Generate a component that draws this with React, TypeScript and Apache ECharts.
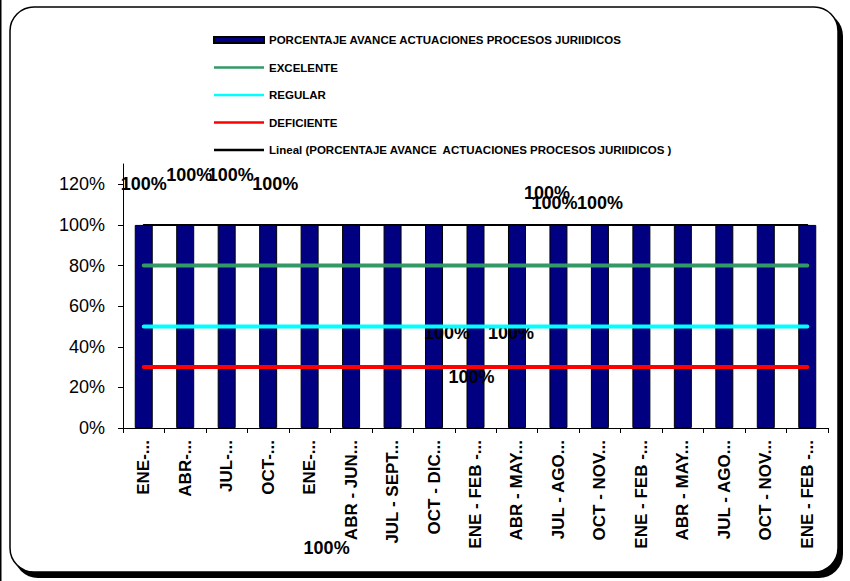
import React, { useEffect, useRef } from "react";
import * as echarts from "echarts";

const categories = [
  "ENE-...", "ABR-...", "JUL-...", "OCT-...", "ENE-...",
  "ABR - JUN...", "JUL - SEPT...", "OCT - DIC...", "ENE - FEB -...",
  "ABR - MAY...", "JUL - AGO...", "OCT - NOV...", "ENE - FEB -...",
  "ABR - MAY...", "JUL - AGO...", "OCT - NOV...", "ENE - FEB -...",
];
const avance = [1, 1, 1, 1, 1, 1, 1, 1, 1, 1, 1, 1, 1, 1, 1, 1, 1];
const excelente = [0.8, 0.8, 0.8, 0.8, 0.8, 0.8, 0.8, 0.8, 0.8, 0.8, 0.8, 0.8, 0.8, 0.8, 0.8, 0.8, 0.8];
const regular = [0.5, 0.5, 0.5, 0.5, 0.5, 0.5, 0.5, 0.5, 0.5, 0.5, 0.5, 0.5, 0.5, 0.5, 0.5, 0.5, 0.5];
const deficiente = [0.3, 0.3, 0.3, 0.3, 0.3, 0.3, 0.3, 0.3, 0.3, 0.3, 0.3, 0.3, 0.3, 0.3, 0.3, 0.3, 0.3];
const lineal = [1, 1, 1, 1, 1, 1, 1, 1, 1, 1, 1, 1, 1, 1, 1, 1, 1];
const yTicks = [0, 0.2, 0.4, 0.6, 0.8, 1.0, 1.2];

// label displacement (styling) for each bar's data label; null = label not visible
const labelOffsets: ([number, number] | null)[] = [
  [0, -27], [4, -36], [4, -36], [7, -27], [17, 337],
  [96, 122], [79, 166], [77, 122], null,
  [30, -18], [-4, -8], [0, -8], null, null, null, null, null,
];

const FONT = "'Liberation Sans', Arial, Helvetica, sans-serif";
const NAMES = [
  "PORCENTAJE AVANCE ACTUACIONES PROCESOS JURIIDICOS",
  "EXCELENTE",
  "REGULAR",
  "DEFICIENTE",
  "Lineal (PORCENTAJE AVANCE  ACTUACIONES PROCESOS JURIIDICOS )",
];
const LINE_ICON = "path://M0,0h50v2.5h-50z";

export default function App() {
  const ref = useRef<HTMLDivElement>(null);
  useEffect(() => {
    document.body.style.margin = "0";
    if (!ref.current) return;
    const chart = echarts.init(ref.current, undefined, { renderer: "svg" });
    const pct = (v: number) => `${Math.round(v * 100)}%`;
    const lineSeries = (name: string, data: number[], color: string, width: number, z: number) => ({
      name,
      type: "line",
      data,
      symbol: "none",
      showSymbol: false,
      z,
      lineStyle: { color, width, cap: "round" },
      itemStyle: { color },
    });
    chart.setOption({
      animation: false,
      backgroundColor: "#ffffff",
      textStyle: { fontFamily: FONT },
      graphic: [
        { type: "rect", z: -20, silent: true, shape: { x: 0, y: 0, width: 1.5, height: 581 }, style: { fill: "#000" } },
        { type: "rect", z: -20, silent: true, shape: { x: 14, y: 12, width: 829, height: 566, r: 24 }, style: { fill: "#000" } },
        { type: "rect", z: -19, silent: true, shape: { x: 10, y: 7, width: 828, height: 565, r: 24 }, style: { fill: "#fff", stroke: "#000", lineWidth: 1.5 } },
      ],
      legend: {
        orient: "vertical",
        left: 213,
        top: 34,
        padding: 0,
        itemWidth: 50,
        itemHeight: 6,
        itemGap: 15.5,
        selectedMode: false,
        textStyle: { fontFamily: FONT, fontSize: 11.5, fontWeight: "bold", color: "#000", lineHeight: 12 },
        data: [
          { name: NAMES[0], icon: "rect" },
          { name: NAMES[1], icon: LINE_ICON, itemStyle: { color: "#339966" } },
          { name: NAMES[2], icon: LINE_ICON, itemStyle: { color: "#00FFFF" } },
          { name: NAMES[3], icon: LINE_ICON, itemStyle: { color: "#FF0000" } },
          { name: NAMES[4], icon: LINE_ICON, itemStyle: { color: "#000000" } },
        ],
      },
      grid: { left: 123, right: 22, top: 164, bottom: 153, containLabel: false },
      xAxis: {
        type: "category",
        data: categories,
        boundaryGap: true,
        axisLine: { lineStyle: { color: "#000", width: 1 } },
        axisTick: { show: true, length: 5, lineStyle: { color: "#000" } },
        axisLabel: {
          interval: 0,
          rotate: 90,
          margin: 12,
          fontFamily: FONT,
          fontSize: 17,
          fontWeight: "bold",
          color: "#000",
        },
        splitLine: { show: false },
      },
      yAxis: {
        type: "value",
        min: 0,
        max: 1.3,
        interval: 0.2,
        axisLine: { show: true, lineStyle: { color: "#000", width: 1 } },
        axisTick: { show: true, length: 5, lineStyle: { color: "#000" }, customValues: yTicks },
        axisLabel: {
          margin: 18,
          fontFamily: FONT,
          fontSize: 18,
          color: "#000",
          customValues: yTicks,
          formatter: (v: number) => (yTicks.some((t) => Math.abs(t - v) < 1e-6) ? pct(v) : ""),
        },
        splitLine: { show: false },
      },
      series: [
        {
          name: NAMES[0],
          type: "bar",
          barWidth: 18,
          z: 2,
          itemStyle: { color: "#000080", borderColor: "#000", borderWidth: 1 },
          data: avance.map((v, i) => {
            const off = labelOffsets[i];
            return {
              value: v,
              label: off
                ? { show: true, position: "top", distance: 5, offset: off }
                : { show: false },
            };
          }),
          label: {
            fontFamily: FONT,
            fontSize: 18,
            fontWeight: "bold",
            color: "#000",
            formatter: (p: any) => pct(p.value),
          },
        },
        lineSeries(NAMES[1], excelente, "#339966", 4, 3),
        lineSeries(NAMES[2], regular, "#00FFFF", 4, 3),
        lineSeries(NAMES[3], deficiente, "#FF0000", 4, 3),
        lineSeries(NAMES[4], lineal, "#000000", 2, 3),
      ],
    });
    return () => chart.dispose();
  }, []);
  return <div ref={ref} style={{ width: 850, height: 581 }} />;
}
